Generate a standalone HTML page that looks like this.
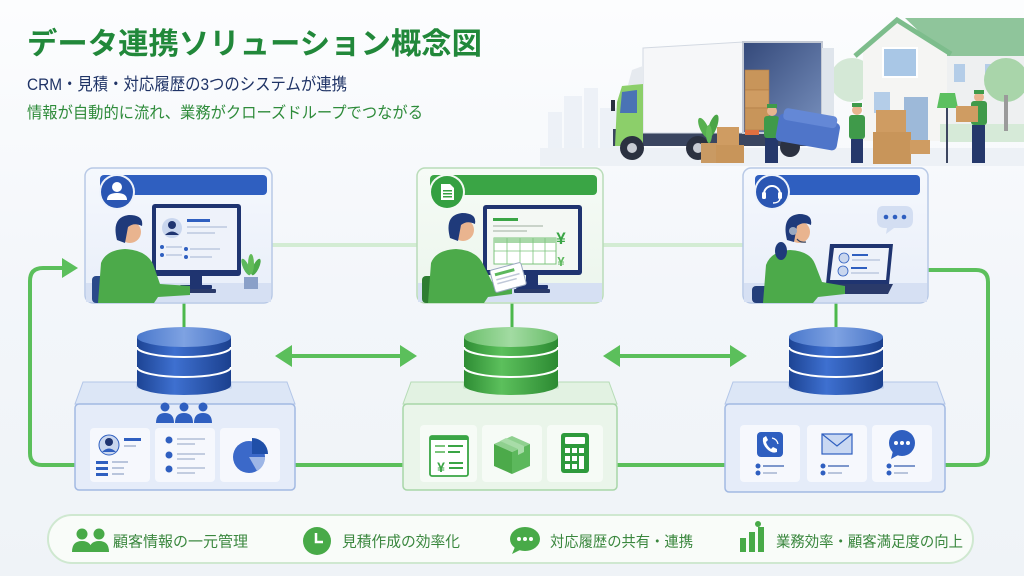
<!DOCTYPE html>
<html><head><meta charset="utf-8"><style>
html,body{margin:0;padding:0;background:#f3f6fa;}
svg{display:block;}
text{font-family:"Liberation Sans","Noto Sans CJK JP",sans-serif;}
</style></head><body>
<svg width="1024" height="576" viewBox="0 0 1024 576" xmlns="http://www.w3.org/2000/svg">
<defs>
<linearGradient id="bg" x1="0" y1="0" x2="0" y2="1"><stop offset="0" stop-color="#fcfdfe"/><stop offset="0.5" stop-color="#f3f6fa"/><stop offset="1" stop-color="#eff3f7"/></linearGradient>
<linearGradient id="cardB" x1="0" y1="0" x2="0" y2="1"><stop offset="0" stop-color="#f5f8fd"/><stop offset="1" stop-color="#e8eef9"/></linearGradient>
<linearGradient id="cardG" x1="0" y1="0" x2="0" y2="1"><stop offset="0" stop-color="#f6fbf6"/><stop offset="1" stop-color="#ebf5ec"/></linearGradient>
<linearGradient id="dbB" x1="0" y1="0" x2="1" y2="0"><stop offset="0" stop-color="#1d4494"/><stop offset="0.4" stop-color="#3e70d0"/><stop offset="1" stop-color="#1b408e"/></linearGradient>
<linearGradient id="dbBt" x1="0" y1="0" x2="1" y2="0"><stop offset="0" stop-color="#4a78cc"/><stop offset="0.5" stop-color="#7ea2e2"/><stop offset="1" stop-color="#4a76c8"/></linearGradient>
<linearGradient id="dbG" x1="0" y1="0" x2="1" y2="0"><stop offset="0" stop-color="#2e8d34"/><stop offset="0.4" stop-color="#5cc05c"/><stop offset="1" stop-color="#2c8a32"/></linearGradient>
<linearGradient id="dbGt" x1="0" y1="0" x2="1" y2="0"><stop offset="0" stop-color="#6cc06c"/><stop offset="0.5" stop-color="#a2dba2"/><stop offset="1" stop-color="#6abd6a"/></linearGradient>
<linearGradient id="truckIn" x1="0" y1="0" x2="1" y2="1"><stop offset="0" stop-color="#34497a"/><stop offset="1" stop-color="#7890bd"/></linearGradient>
</defs>
<rect width="1024" height="576" fill="url(#bg)"/>

<!-- skyline -->
<g fill="#e6ecf4" opacity="0.6">
<rect x="548" y="112" width="14" height="40"/><rect x="564" y="96" width="18" height="56"/><rect x="584" y="88" width="14" height="64"/><rect x="600" y="108" width="20" height="44"/>
</g>
<rect x="540" y="148" width="484" height="18" fill="#edf1f6"/>

<!-- house -->
<circle cx="852" cy="80" r="22" fill="#d4e8d6"/>
<rect x="945" y="52" width="79" height="90" fill="#eef0f1"/>
<polygon points="905,18 1024,18 1024,56 945,56" fill="#8fc59b"/>
<polygon points="863,50 897,22 947,50 947,141 863,141" fill="#f5f5f3"/>
<polyline points="855,56 897,20 951,54" fill="none" stroke="#7dbd8c" stroke-width="5"/>
<rect x="883" y="48" width="34" height="29" fill="#a9c7e6" stroke="#ffffff" stroke-width="2"/>
<rect x="874" y="92" width="16" height="21" fill="#b4cde8"/>
<rect x="904" y="97" width="24" height="44" fill="#9db9d9"/>
<rect x="954" y="64" width="11" height="18" fill="#b4cde8"/>
<rect x="985" y="64" width="17" height="18" fill="#b4cde8"/>
<rect x="940" y="124" width="84" height="18" fill="#d6ead8"/>
<circle cx="1006" cy="80" r="22" fill="#a9d5aa"/>
<rect x="1004" y="95" width="4" height="36" fill="#9a9a9a"/>
<polygon points="940,93 955,93 958,108 937,108" fill="#5cc060"/>
<rect x="946" y="108" width="2" height="55" fill="#3c4660"/>

<!-- truck -->
<rect x="613" y="129" width="220" height="17" fill="#3a4560"/>
<polygon points="643,48 743,42 743,133 643,133" fill="#f6f7f9" stroke="#d3d9e2"/>
<rect x="743" y="42" width="79" height="91" fill="url(#truckIn)" stroke="#c3c9d4" stroke-width="2"/>
<rect x="822" y="48" width="12" height="74" fill="#dfe5ec"/>
<rect x="745" y="70" width="24" height="20" fill="#c8955a" stroke="#b07c45" stroke-width="0.6"/>
<rect x="745" y="90" width="24" height="18" fill="#cf9c62" stroke="#b07c45" stroke-width="0.6"/>
<rect x="745" y="108" width="24" height="22" fill="#c8955a" stroke="#b07c45" stroke-width="0.6"/>
<polygon points="628,85 632,70 643,66 643,85" fill="#e6eaef"/>
<path d="M617,102 L622,86 L643,84 L643,146 L615,146 Z" fill="#8ccf6a"/>
<polygon points="622,92 637,90 637,113 620,113" fill="#4a73b5"/>
<rect x="611" y="100" width="4" height="11" fill="#2b3140"/>
<rect x="745" y="130" width="14" height="5" fill="#e07040"/>
<circle cx="632" cy="148" r="12" fill="#2b3140"/><circle cx="632" cy="148" r="5" fill="#c8ccd4"/>
<circle cx="698" cy="148" r="12" fill="#2b3140"/><circle cx="698" cy="148" r="5" fill="#c8ccd4"/>
<circle cx="790" cy="147" r="10" fill="#2b3140"/>
<!-- plant + boxes -->
<rect x="701" y="143" width="16" height="20" fill="#c99a63"/>
<ellipse cx="704" cy="128" rx="4" ry="11" fill="#56b04f" transform="rotate(-25 704 128)"/>
<ellipse cx="713" cy="126" rx="4" ry="12" fill="#4aa546" transform="rotate(20 713 126)"/>
<ellipse cx="709" cy="134" rx="3" ry="9" fill="#62bb58"/>
<rect x="717" y="127" width="22" height="18" fill="#cf9c62"/>
<rect x="716" y="145" width="28" height="18" fill="#c8955a"/>
<!-- worker 1 -->
<circle cx="772" cy="111" r="5" fill="#e7b58f"/><rect x="767" y="104" width="10" height="4" fill="#3f9a4a"/>
<rect x="764" y="116" width="15" height="22" rx="3" fill="#3f9a4a"/>
<rect x="765" y="138" width="13" height="25" fill="#25386b"/>
<!-- sofa -->
<g transform="rotate(10 808 131)"><rect x="777" y="118" width="62" height="28" rx="5" fill="#4f75c9"/><rect x="781" y="112" width="54" height="12" rx="4" fill="#6488d6"/></g>
<!-- worker 2 -->
<circle cx="857" cy="110" r="5" fill="#e7b58f"/><rect x="852" y="103" width="10" height="4" fill="#3f9a4a"/>
<rect x="849" y="115" width="16" height="24" rx="3" fill="#3f9a4a"/>
<rect x="851" y="139" width="12" height="24" fill="#25386b"/>
<!-- boxes -->
<rect x="876" y="110" width="30" height="22" fill="#cf9c62"/>
<rect x="873" y="132" width="38" height="32" fill="#c8955a"/>
<rect x="910" y="140" width="20" height="14" fill="#cf9c62"/>
<!-- worker 3 -->
<circle cx="979" cy="97" r="5" fill="#e7b58f"/><rect x="974" y="90" width="10" height="4" fill="#3f9a4a"/>
<rect x="971" y="101" width="16" height="24" rx="3" fill="#3f9a4a"/>
<rect x="956" y="106" width="22" height="16" fill="#cf9c62"/>
<rect x="972" y="125" width="13" height="38" fill="#25386b"/>

<!-- title -->
<text x="27" y="54" font-size="30" font-weight="bold" fill="#21883a" textLength="455" lengthAdjust="spacingAndGlyphs">データ連携ソリューション概念図</text>
<text x="27" y="90" font-size="17" fill="#1f3366" textLength="320" lengthAdjust="spacingAndGlyphs">CRM・見積・対応履歴の3つのシステムが連携</text>
<text x="27" y="118" font-size="16" fill="#2e8b3a" textLength="396" lengthAdjust="spacingAndGlyphs">情報が自動的に流れ、業務がクローズドループでつながる</text>

<!-- connectors -->
<g stroke="#d3ecd3" stroke-width="4" fill="none">
<path d="M272,245 H417"/><path d="M603,245 H743"/>
</g>
<g stroke="#5bbf5b" stroke-width="4" fill="none">
<path d="M75,465 H42 Q30,465 30,453 V281 Q30,268 43,268 H64"/>
<path d="M928,270 H976 Q988,270 988,282 V453 Q988,465 976,465 H945"/>
<path d="M295,465 H403"/><path d="M617,465 H725"/>
<path d="M289,356 H403"/><path d="M617,356 H733"/>
</g>
<g stroke="#4cb84c" stroke-width="3">
<path d="M184,303 V328"/><path d="M512,303 V328"/><path d="M836,303 V328"/>
</g>
<g fill="#5bbf5b">
<polygon points="62,258 78,268 62,278"/>
<polygon points="275,356 292,345 292,367"/><polygon points="417,356 400,345 400,367"/>
<polygon points="603,356 620,345 620,367"/><polygon points="747,356 730,345 730,367"/>
</g>

<!-- ===== LEFT CARD ===== -->
<rect x="85" y="168" width="187" height="135" rx="8" fill="url(#cardB)" stroke="#b8c9e6" stroke-width="1.5"/>
<rect x="86" y="283" width="185" height="19" fill="#d6e0f3"/>
<rect x="100" y="175" width="167" height="20" rx="4" fill="#2f5fc0"/>
<circle cx="117" cy="192" r="18" fill="#eef3fb"/>
<circle cx="117" cy="192" r="16" fill="#2a56b3"/>
<circle cx="117" cy="187" r="5" fill="#fff"/><path d="M107,200 Q107,193 117,193 Q127,193 127,200 Z" fill="#fff"/>
<rect x="152" y="204" width="89" height="72" rx="3" fill="#1f3470"/>
<rect x="156" y="208" width="81" height="62" fill="#eef2fa"/>
<circle cx="172" cy="228" r="10" fill="#c9d6ee"/><circle cx="172" cy="225" r="4" fill="#1f3470"/><path d="M165,235 Q172,228 179,235 Z" fill="#1f3470"/>
<rect x="187" y="219" width="23" height="3" fill="#2f5fc0"/><rect x="187" y="226" width="40" height="2" fill="#c9d3e6"/><rect x="187" y="232" width="28" height="2" fill="#c9d3e6"/>
<circle cx="162" cy="247" r="2" fill="#2f5fc0"/><rect x="166" y="246" width="16" height="2" fill="#c9d3e6"/>
<circle cx="162" cy="255" r="2" fill="#2f5fc0"/><rect x="166" y="254" width="16" height="2" fill="#c9d3e6"/>
<circle cx="186" cy="249" r="2" fill="#2f5fc0"/><rect x="190" y="248" width="30" height="2" fill="#c9d3e6"/>
<circle cx="186" cy="257" r="2" fill="#2f5fc0"/><rect x="190" y="256" width="22" height="2" fill="#c9d3e6"/>
<rect x="190" y="276" width="12" height="10" fill="#1f3470"/><rect x="180" y="285" width="32" height="4" rx="1" fill="#1f3470"/>
<rect x="182" y="289" width="34" height="4" rx="1" fill="#2a3a6a"/>
<rect x="244" y="277" width="14" height="12" fill="#8aa0c8"/>
<ellipse cx="246" cy="267" rx="3" ry="9" fill="#5cb85c" transform="rotate(-25 246 267)"/><ellipse cx="256" cy="267" rx="3" ry="9" fill="#4caa4a" transform="rotate(25 256 267)"/><ellipse cx="251" cy="264" rx="3" ry="10" fill="#62bb58"/>
<rect x="92" y="276" width="32" height="27" rx="4" fill="#2a4a8a"/>
<path d="M98,303 L101,263 Q106,250 125,249 Q146,250 153,264 L160,284 L190,286 L190,295 L158,297 L154,303 Z" fill="#4caa4a"/>
<circle cx="130" cy="232" r="11" fill="#e9b48f"/>
<path d="M117,240 Q111,217 129,215 Q144,215 142,226 Q134,222 128,227 L125,243 Z" fill="#1f3a7a"/>

<!-- left DB -->
<path d="M137,337 V385 A47,10 0 0 0 231,385 V337 Z" fill="url(#dbB)"/>
<ellipse cx="184" cy="337" rx="47" ry="10" fill="url(#dbBt)"/>
<path d="M137,347 A47,10 0 0 0 231,347" fill="none" stroke="#fff" stroke-width="2"/>
<path d="M137,367 A47,10 0 0 0 231,367" fill="none" stroke="#fff" stroke-width="2"/>
<!-- left base -->
<polygon points="83,382 137,382 137,388 231,388 231,382 287,382 295,404 75,404" fill="#dce6f6" stroke="#b3c6e8"/>
<rect x="75" y="404" width="220" height="86" rx="4" fill="#e5ecf9" stroke="#a2b9e2" stroke-width="1.5"/>
<path d="M137,385 A47,10 0 0 0 231,385 V380 H137 Z" fill="url(#dbB)"/>
<g fill="#2f5fc0">
<circle cx="165" cy="407" r="4.5"/><path d="M156,423 Q156,413 165,413 Q174,413 174,423 Z"/>
<circle cx="184" cy="407" r="4.5"/><path d="M175,423 Q175,413 184,413 Q193,413 193,423 Z"/>
<circle cx="203" cy="407" r="4.5"/><path d="M194,423 Q194,413 203,413 Q212,413 212,423 Z"/>
</g>
<rect x="90" y="428" width="60" height="54" rx="4" fill="#f6f8fd"/>
<rect x="155" y="428" width="60" height="54" rx="4" fill="#f6f8fd"/>
<rect x="220" y="428" width="60" height="54" rx="4" fill="#f6f8fd"/>
<circle cx="109" cy="445" r="10" fill="#c9d6ee" stroke="#2f5fc0" stroke-width="1"/><circle cx="109" cy="442" r="4" fill="#1f3470"/><path d="M102,452 Q109,445 116,452 Z" fill="#2f5fc0"/>
<rect x="124" y="438" width="17" height="3" fill="#2f5fc0"/><rect x="124" y="445" width="12" height="2" fill="#b9c5dc"/>
<rect x="96" y="461" width="12" height="3" fill="#2f5fc0"/><rect x="96" y="467" width="12" height="3" fill="#2f5fc0"/><rect x="96" y="473" width="12" height="3" fill="#2f5fc0"/>
<rect x="112" y="461" width="16" height="2" fill="#b9c5dc"/><rect x="112" y="467" width="12" height="2" fill="#b9c5dc"/><rect x="112" y="473" width="12" height="2" fill="#b9c5dc"/>
<g fill="#2f5fc0"><circle cx="169" cy="440" r="3.5"/><circle cx="169" cy="455" r="3.5"/><circle cx="169" cy="469" r="3.5"/></g>
<g fill="#c3cde0"><rect x="177" y="438" width="28" height="2"/><rect x="177" y="443" width="18" height="2"/><rect x="177" y="453" width="28" height="2"/><rect x="177" y="458" width="18" height="2"/><rect x="177" y="467" width="28" height="2"/><rect x="177" y="472" width="18" height="2"/></g>
<circle cx="249" cy="457" r="16" fill="#3b69c9"/>
<path d="M249,457 L265,457 A16,16 0 0 1 257,471 Z" fill="#9db6e6"/>
<path d="M252,454 L252,438 A16,16 0 0 1 268,454 Z" fill="#1f4fa8"/>

<!-- ===== MIDDLE CARD ===== -->
<rect x="417" y="168" width="186" height="135" rx="8" fill="url(#cardG)" stroke="#b9dcb9" stroke-width="1.5"/>
<rect x="418" y="283" width="184" height="19" fill="#d6e0f3"/>
<rect x="430" y="175" width="167" height="20" rx="4" fill="#3aa545"/>
<circle cx="447" cy="192" r="18" fill="#f4faf4"/>
<circle cx="447" cy="192" r="16" fill="#34a041"/>
<path d="M441,184 H450 L454,188 V200 H441 Z" fill="#fff"/>
<rect x="443" y="190" width="9" height="1.5" fill="#34a041"/><rect x="443" y="193" width="9" height="1.5" fill="#34a041"/><rect x="443" y="196" width="9" height="1.5" fill="#34a041"/>
<rect x="483" y="205" width="99" height="70" rx="3" fill="#1f3470"/>
<rect x="487" y="209" width="91" height="61" fill="#f4f8f4"/>
<rect x="493" y="218" width="25" height="3" fill="#3aa545"/>
<rect x="493" y="225" width="50" height="2" fill="#c9d3c9"/><rect x="493" y="230" width="34" height="2" fill="#c9d3c9"/>
<rect x="494" y="238" width="62" height="26" fill="#fff" stroke="#7cc47c" stroke-width="1"/>
<rect x="494" y="238" width="62" height="5" fill="#a8d8a8"/>
<g stroke="#7cc47c" stroke-width="0.8"><path d="M494,251 H556"/><path d="M507,238 V264"/><path d="M520,238 V264"/><path d="M533,238 V264"/><path d="M545,238 V264"/></g>
<text x="561" y="244" font-size="17" font-weight="bold" fill="#3aa545" text-anchor="middle">¥</text>
<text x="561" y="266" font-size="13" font-weight="bold" fill="#5cb85c" text-anchor="middle">¥</text>
<rect x="526" y="275" width="12" height="10" fill="#1f3470"/><rect x="516" y="285" width="32" height="4" rx="1" fill="#1f3470"/>
<rect x="514" y="289" width="36" height="4" rx="1" fill="#2a3a6a"/>
<rect x="422" y="276" width="34" height="27" rx="4" fill="#2e7d32"/>
<path d="M428,303 L431,263 Q436,250 456,249 Q476,250 483,264 L492,282 L512,285 L512,294 L488,297 L484,303 Z" fill="#4caa4a"/>
<g transform="rotate(-15 508 277)"><rect x="492" y="266" width="32" height="23" rx="2" fill="#fff" stroke="#9aa8c0" stroke-width="1"/><rect x="496" y="270" width="20" height="3" fill="#5cb85c"/><rect x="496" y="276" width="24" height="1.5" fill="#c0c8d8"/><rect x="496" y="280" width="20" height="1.5" fill="#c0c8d8"/></g>
<circle cx="463" cy="230" r="11" fill="#e9b48f"/>
<path d="M450,238 Q444,215 462,213 Q477,213 475,224 Q467,220 461,225 L458,241 Z" fill="#1f3a7a"/>

<!-- middle DB -->
<path d="M464,337 V385 A47,10 0 0 0 558,385 V337 Z" fill="url(#dbG)"/>
<ellipse cx="511" cy="337" rx="47" ry="10" fill="url(#dbGt)"/>
<path d="M464,347 A47,10 0 0 0 558,347" fill="none" stroke="#fff" stroke-width="2"/>
<path d="M464,367 A47,10 0 0 0 558,367" fill="none" stroke="#fff" stroke-width="2"/>
<!-- middle base -->
<polygon points="411,382 464,382 464,388 558,388 558,382 609,382 617,404 403,404" fill="#e2f2e2" stroke="#b6dcb6"/>
<rect x="403" y="404" width="214" height="86" rx="4" fill="#eaf5ea" stroke="#a8d6a8" stroke-width="1.5"/>
<path d="M464,385 A47,10 0 0 0 558,385 V380 H464 Z" fill="url(#dbG)"/>
<rect x="420" y="425" width="57" height="57" rx="4" fill="#f6fbf6"/>
<rect x="482" y="425" width="60" height="57" rx="4" fill="#f6fbf6"/>
<rect x="547" y="425" width="56" height="57" rx="4" fill="#f6fbf6"/>
<rect x="430" y="436" width="38" height="40" rx="2" fill="#fff" stroke="#3aa545" stroke-width="1.8"/>
<rect x="430" y="436" width="38" height="4" fill="#3aa545"/>
<rect x="435" y="445" width="10" height="2" fill="#7cc47c"/><rect x="448" y="445" width="15" height="2" fill="#3aa545"/>
<rect x="435" y="451" width="10" height="2" fill="#7cc47c"/><rect x="448" y="451" width="12" height="2" fill="#3aa545"/>
<text x="441" y="472" font-size="14" font-weight="bold" fill="#3aa545" text-anchor="middle">¥</text>
<rect x="449" y="462" width="14" height="2" fill="#3aa545"/><rect x="449" y="467" width="14" height="2" fill="#3aa545"/>
<polygon points="494,444 512,436 530,444 512,452" fill="#8fd08f"/>
<polygon points="494,444 512,452 512,474 494,466" fill="#4caa4a"/>
<polygon points="530,444 512,452 512,474 530,466" fill="#5cb85c"/>
<polygon points="500,441 518,449 518,455 524,452 524,446 506,438" fill="#a8dca8"/>
<rect x="561" y="433" width="28" height="40" rx="3" fill="#2e9a3c"/>
<rect x="565" y="437" width="20" height="7" rx="1" fill="#fff"/>
<g fill="#fff"><rect x="565" y="448" width="5" height="5"/><rect x="572" y="448" width="5" height="5"/><rect x="579" y="448" width="5" height="5"/><rect x="565" y="456" width="5" height="5"/><rect x="572" y="456" width="5" height="5"/><rect x="579" y="456" width="5" height="13"/><rect x="565" y="464" width="5" height="5"/><rect x="572" y="464" width="5" height="5"/></g>

<!-- ===== RIGHT CARD ===== -->
<rect x="743" y="168" width="185" height="135" rx="8" fill="url(#cardB)" stroke="#b8c9e6" stroke-width="1.5"/>
<rect x="744" y="283" width="183" height="19" fill="#d6e0f3"/>
<rect x="755" y="175" width="165" height="20" rx="4" fill="#2f5fc0"/>
<circle cx="772" cy="192" r="18" fill="#eef3fb"/>
<circle cx="772" cy="192" r="16" fill="#2a56b3"/>
<path d="M764,194 A8,8 0 0 1 780,194" fill="none" stroke="#fff" stroke-width="2"/>
<rect x="762" y="192" width="4" height="7" rx="1.5" fill="#fff"/><rect x="778" y="192" width="4" height="7" rx="1.5" fill="#fff"/>
<path d="M780,199 Q779,203 773,203" fill="none" stroke="#fff" stroke-width="1.5"/>
<path d="M883,206 H905 Q913,206 913,214 V220 Q913,228 905,228 H894 L886,234 L887,228 H885 Q877,228 877,220 V214 Q877,206 883,206 Z" fill="#d3def2"/>
<g fill="#2f5fc0"><circle cx="886" cy="217" r="2.3"/><circle cx="895" cy="217" r="2.3"/><circle cx="904" cy="217" r="2.3"/></g>
<polygon points="830,244 893,244 889,284 826,284" fill="#1f3470"/>
<polygon points="834,248 889,248 886,280 830,280" fill="#eef2fa"/>
<circle cx="844" cy="258" r="5" fill="#c9d6ee" stroke="#2f5fc0" stroke-width="0.8"/><circle cx="843" cy="271" r="5" fill="#c9d6ee" stroke="#2f5fc0" stroke-width="0.8"/>
<rect x="852" y="254" width="16" height="2" fill="#2f5fc0"/><rect x="852" y="259" width="28" height="2" fill="#c9d3e6"/>
<rect x="851" y="267" width="16" height="2" fill="#2f5fc0"/><rect x="851" y="272" width="28" height="2" fill="#c9d3e6"/>
<polygon points="819,284 893,284 888,294 813,294" fill="#2a3a6a"/>
<rect x="752" y="286" width="36" height="17" rx="4" fill="#243f7a"/>
<path d="M763,303 L766,265 Q771,251 790,250 Q810,251 815,264 L822,282 L845,286 L845,294 L818,297 L813,303 Z" fill="#4caa4a"/>
<circle cx="799" cy="232" r="11" fill="#e9b48f"/>
<path d="M787,240 Q781,216 799,214 Q813,214 811,225 Q803,221 797,226 L794,242 Z" fill="#1f3a7a"/>
<ellipse cx="781" cy="251" rx="6" ry="9" fill="#1f3a7a"/>
<circle cx="793" cy="231" r="4" fill="#9aa8c0"/>
<path d="M797,239 Q800,243 806,242" fill="none" stroke="#3a4660" stroke-width="1.2"/>

<!-- right DB -->
<path d="M789,337 V385 A47,10 0 0 0 883,385 V337 Z" fill="url(#dbB)"/>
<ellipse cx="836" cy="337" rx="47" ry="10" fill="url(#dbBt)"/>
<path d="M789,347 A47,10 0 0 0 883,347" fill="none" stroke="#fff" stroke-width="2"/>
<path d="M789,367 A47,10 0 0 0 883,367" fill="none" stroke="#fff" stroke-width="2"/>
<!-- right base -->
<polygon points="733,382 789,382 789,388 883,388 883,382 937,382 945,404 725,404" fill="#dce6f6" stroke="#b3c6e8"/>
<rect x="725" y="404" width="220" height="88" rx="4" fill="#e5ecf9" stroke="#a2b9e2" stroke-width="1.5"/>
<path d="M789,385 A47,10 0 0 0 883,385 V380 H789 Z" fill="url(#dbB)"/>
<rect x="740" y="425" width="60" height="57" rx="4" fill="#f6f8fd"/>
<rect x="807" y="425" width="60" height="57" rx="4" fill="#f6f8fd"/>
<rect x="872" y="425" width="60" height="57" rx="4" fill="#f6f8fd"/>
<rect x="757" y="432" width="26" height="25" rx="4" fill="#2f5fc0"/>
<path d="M763,438 Q762,444 767,449 Q772,454 777,452 L777,449 L773,447 L771,449 Q767,446 766,442 L768,440 L766,436 Z" fill="#fff"/>
<path d="M772,438 Q777,439 778,444" fill="none" stroke="#fff" stroke-width="1.2"/>
<g fill="#2f5fc0"><circle cx="758" cy="466" r="2.5"/><circle cx="758" cy="473" r="2.5"/><circle cx="823" cy="466" r="2.5"/><circle cx="823" cy="473" r="2.5"/><circle cx="889" cy="466" r="2.5"/><circle cx="889" cy="473" r="2.5"/></g>
<g fill="#b9c5dc"><rect x="763" y="465" width="21" height="2" fill="#7d97cc"/><rect x="763" y="472" width="14" height="2"/><rect x="828" y="465" width="21" height="2" fill="#7d97cc"/><rect x="828" y="472" width="14" height="2"/><rect x="894" y="465" width="21" height="2" fill="#7d97cc"/><rect x="894" y="472" width="14" height="2"/></g>
<rect x="822" y="434" width="30" height="20" fill="#c9d8f2" stroke="#2f5fc0" stroke-width="1.2"/>
<path d="M822,434 L837,446 L852,434" fill="none" stroke="#2f5fc0" stroke-width="1.2"/>
<circle cx="902" cy="443" r="13" fill="#2f5fc0"/>
<polygon points="893,451 891,459 900,454" fill="#2f5fc0"/>
<g fill="#fff"><circle cx="896" cy="443" r="2"/><circle cx="902" cy="443" r="2"/><circle cx="908" cy="443" r="2"/></g>

<!-- legend -->
<rect x="48" y="515" width="925" height="48" rx="24" fill="#f9fcf9" stroke="#cfe8d0" stroke-width="2"/>
<g fill="#48aa48">
<circle cx="82" cy="534" r="5.5"/><path d="M72,552 Q72,541 82,541 Q92,541 92,552 Z"/>
<circle cx="99" cy="534" r="5.5"/><path d="M89,552 Q89,541 99,541 Q109,541 109,552 Z"/>
<circle cx="317" cy="541" r="14"/>
<ellipse cx="525" cy="539" rx="15" ry="12"/><polygon points="515,547 512,554 522,549"/>
<rect x="740" y="538" width="6" height="14"/><rect x="749" y="532" width="6" height="20"/><rect x="758" y="527" width="6" height="25"/><circle cx="758" cy="524" r="3"/>
</g>
<path d="M316,533 V542 H323" fill="none" stroke="#fff" stroke-width="2.5"/>
<g fill="#fff"><circle cx="519" cy="539" r="2"/><circle cx="525" cy="539" r="2"/><circle cx="531" cy="539" r="2"/></g>
<g font-size="15" fill="#3a873e">
<text x="113" y="546.5" textLength="135" lengthAdjust="spacingAndGlyphs">顧客情報の一元管理</text>
<text x="342" y="546.5" textLength="118" lengthAdjust="spacingAndGlyphs">見積作成の効率化</text>
<text x="550" y="546.5" textLength="143" lengthAdjust="spacingAndGlyphs">対応履歴の共有・連携</text>
<text x="776" y="546.5" textLength="187" lengthAdjust="spacingAndGlyphs">業務効率・顧客満足度の向上</text>
</g>
</svg>
</body></html>
